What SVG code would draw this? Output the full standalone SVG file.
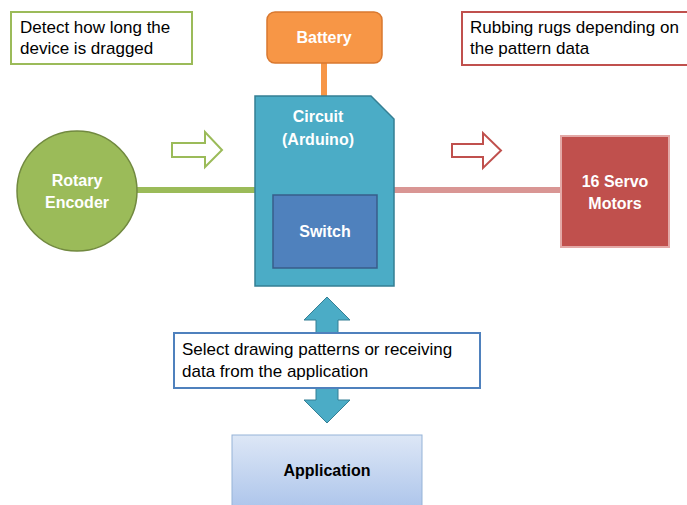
<svg xmlns="http://www.w3.org/2000/svg" width="687" height="505" viewBox="0 0 687 505">
<defs>
<linearGradient id="appGrad" x1="0" y1="0" x2="0" y2="1">
<stop offset="0" stop-color="#dde7f6"/>
<stop offset="1" stop-color="#a9c2ea"/>
</linearGradient>
</defs>
<style>
.note{font-family:"Liberation Sans",Arial,sans-serif;font-size:17px;fill:#000}
.lbl{font-family:"Liberation Sans",Arial,sans-serif;font-size:16px;font-weight:bold;fill:#fff;text-anchor:middle}
.conn{fill:none;stroke-width:6}
</style>
<rect width="687" height="505" fill="#fff"/>
<g id="connectors">
<line class="conn" x1="324" y1="63" x2="324" y2="97" stroke="#f79646"/>
<line class="conn" x1="137" y1="190" x2="256" y2="190" stroke="#9bbb59"/>
<line class="conn" x1="394" y1="190" x2="561" y2="190" stroke="#d99694"/>
<path d="M172,143 H205 V132 L222,150 L205,167 V157 H172 Z" fill="#fff" stroke="#9bbb59" stroke-width="2"/>
<path d="M452,144 H483 V133 L501,150.5 L483,168 V157 H452 Z" fill="#fff" stroke="#c0504d" stroke-width="2"/>
<path d="M327,297 L350,320 H338 V400 H350 L327,423 L304,400 H316 V320 H304 Z" fill="#4bacc6" stroke="#357f94" stroke-width="1"/>
</g>
<g id="note-detect">
<rect x="11" y="12" width="181" height="52" fill="#fff" stroke="#9bbb59" stroke-width="2"/>
<text class="note" x="20" y="33">Detect how long the</text>
<text class="note" x="20" y="54">device is dragged</text>
</g>
<g id="note-rubbing">
<rect x="462" y="12" width="230" height="53" fill="#fff" stroke="#c0504d" stroke-width="2"/>
<text class="note" x="470" y="33">Rubbing rugs depending on</text>
<text class="note" x="470" y="54">the pattern data</text>
</g>
<g id="battery">
<rect x="267" y="12" width="115" height="51" rx="8" fill="#f79646" stroke="#d9782f" stroke-width="1.5"/>
<text class="lbl" x="324" y="43">Battery</text>
</g>
<g id="circuit">
<path d="M255,96 H371 L394,119 V286 H255 Z" fill="#4bacc6" stroke="#357f94" stroke-width="1.5"/>
<text class="lbl" x="318" y="122">Circuit</text>
<text class="lbl" x="318" y="145">(Arduino)</text>
</g>
<g id="switch">
<rect x="273" y="195" width="104" height="73" fill="#4f81bd" stroke="#385d8a" stroke-width="1.5"/>
<text class="lbl" x="325" y="237">Switch</text>
</g>
<g id="rotary-encoder">
<circle cx="77" cy="191" r="60" fill="#9bbb59" stroke="#71893f" stroke-width="1.5"/>
<text class="lbl" x="77" y="186">Rotary</text>
<text class="lbl" x="77" y="208">Encoder</text>
</g>
<g id="servo-motors">
<rect x="561" y="136" width="108" height="111" fill="#c0504d" stroke="#e3a9a7" stroke-width="2"/>
<text class="lbl" x="615" y="187">16 Servo</text>
<text class="lbl" x="615" y="209">Motors</text>
</g>
<g id="note-select">
<rect x="174" y="333" width="306" height="55" fill="#fff" stroke="#4f81bd" stroke-width="2"/>
<text class="note" x="182" y="355">Select drawing patterns or receiving</text>
<text class="note" x="182" y="377">data from the application</text>
</g>
<g id="application">
<rect x="232" y="435" width="190" height="80" fill="url(#appGrad)" stroke="#95b3d7" stroke-width="1"/>
<text class="lbl" x="327" y="476" style="fill:#000">Application</text>
</g>
</svg>
